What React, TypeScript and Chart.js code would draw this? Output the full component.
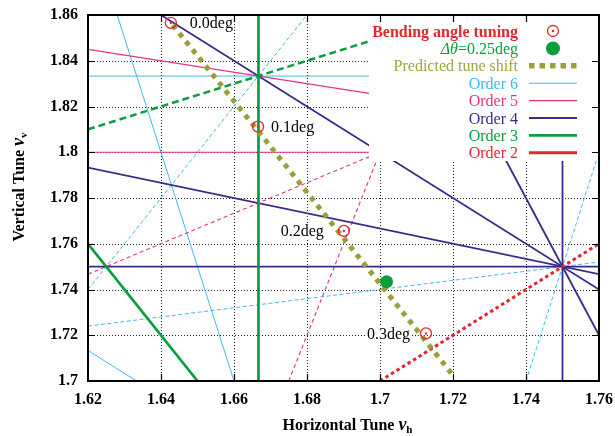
import { useEffect, useRef } from "react";
import { Chart, registerables } from "chart.js";

Chart.register(...registerables);

// ---------- data ----------
const xTickValues = [1.62, 1.64, 1.66, 1.68, 1.7, 1.72, 1.74, 1.76];
const yTickValues = [1.7, 1.72, 1.74, 1.76, 1.78, 1.8, 1.82, 1.84, 1.86];

const bendLabels = ["0.0deg", "0.1deg", "0.2deg", "0.3deg"];
const bendTuneH = [1.6427, 1.6666, 1.6901, 1.7126];
const bendTuneV = [1.8566, 1.8112, 1.7656, 1.7208];

const tunedH = [1.7018];
const tunedV = [1.7434];

const predictedH = [1.6432, 1.6665, 1.6895, 1.7125, 1.72];
const predictedV = [1.8556, 1.8095, 1.7635, 1.7175, 1.7025];

// resonance line segments: [h1, v1, h2, v2]
const order6Sum = [
  [1.62, 1.8333, 1.76, 1.8333],
  [1.628, 1.86, 1.66, 1.7],
  [1.62, 1.7133, 1.6333, 1.7],
];
const order6Diff = [
  [1.62, 1.74, 1.68, 1.86],
  [1.62, 1.724, 1.76, 1.752],
  [1.74, 1.7, 1.76, 1.8],
];
const order5Sum = [
  [1.62, 1.8, 1.76, 1.8],
  [1.62, 1.845, 1.76, 1.81],
];
const order5Diff = [
  [1.62, 1.7467, 1.76, 1.84],
  [1.675, 1.7, 1.715, 1.86],
];
const order4Sum = [
  [1.62, 1.75, 1.76, 1.75],
  [1.75, 1.7, 1.75, 1.86],
  [1.64, 1.86, 1.76, 1.74],
  [1.62, 1.7933, 1.76, 1.7467],
  [1.7133, 1.86, 1.76, 1.72],
];
const order3Sum = [
  [1.6667, 1.7, 1.6667, 1.86],
  [1.62, 1.76, 1.65, 1.7],
];
const order3Diff = [[1.62, 1.81, 1.72, 1.86]];
const order2Diff = [[1.7, 1.7, 1.76, 1.76]];

const legendLabels = [
  "Bending angle tuning",
  "Δθ=0.25deg",
  "Predicted tune shift",
  "Order 6",
  "Order 5",
  "Order 4",
  "Order 3",
  "Order 2",
];

// ---------- styles ----------
const RED = "#e3262f";
const GREEN = "#0a9e3c";
const OLIVE = "#9aa037";
const CYAN = "#3cbcee";
const PINK = "#e5338a";
const PURPLE = "#3b2a8c";

const SERIF = "'Liberation Serif', 'Times New Roman', serif";

const labelOffsets = [19, 13, -20, -16];

const orderStyles = [
  { name: "o6", color: CYAN, width: 1 },
  { name: "o5", color: PINK, width: 1.2 },
  { name: "o4", color: PURPLE, width: 1.8 },
  { name: "o3", color: GREEN, width: 2.7 },
  { name: "o2", color: RED, width: 3 },
];

function segDatasets(segs: number[][], color: string, width: number, dash: number[]) {
  return segs.map((s) => ({
    type: "scatter" as const,
    data: [
      { x: s[0], y: s[1] },
      { x: s[2], y: s[3] },
    ],
    showLine: true,
    borderColor: color,
    backgroundColor: color,
    borderWidth: width,
    borderDash: dash,
    pointRadius: 0,
    pointHoverRadius: 0,
  }));
}

const decorPlugin = {
  id: "decor",
  beforeDatasetsDraw(chart: any) {
    const { ctx, chartArea: a, scales } = chart;
    const x = scales.x;
    const y = scales.y;
    ctx.save();
    ctx.strokeStyle = "#222";
    ctx.lineWidth = 1;
    ctx.setLineDash([1, 2]);
    xTickValues.slice(1, -1).forEach((v) => {
      const px = Math.round(x.getPixelForValue(v)) + 0.5;
      ctx.beginPath();
      ctx.moveTo(px, a.top);
      ctx.lineTo(px, a.bottom);
      ctx.stroke();
    });
    yTickValues.slice(1, -1).forEach((v) => {
      const py = Math.round(y.getPixelForValue(v)) + 0.5;
      ctx.beginPath();
      ctx.moveTo(a.left, py);
      ctx.lineTo(a.right, py);
      ctx.stroke();
    });
    ctx.setLineDash([]);
    // point labels with white background
    ctx.font = `16px ${SERIF}`;
    ctx.textAlign = "left";
    ctx.textBaseline = "alphabetic";
    bendLabels.forEach((t, i) => {
      const px = x.getPixelForValue(bendTuneH[i]);
      const py = y.getPixelForValue(bendTuneV[i]);
      const off = labelOffsets[i];
      const w = ctx.measureText(t).width;
      const left = off > 0 ? px + off : px + off - w;
      ctx.fillStyle = "#fff";
      ctx.fillRect(left - 1, py - 7, w + 2, 15);
      ctx.fillStyle = "#000";
      ctx.fillText(t, left, py + 5.5);
    });
    ctx.restore();
  },
  afterDatasetsDraw(chart: any) {
    const { ctx, chartArea: a, scales } = chart;
    const x = scales.x;
    const y = scales.y;
    ctx.save();
    // legend box
    const boxW = 230;
    const boxH = 146;
    ctx.fillStyle = "#fff";
    ctx.fillRect(a.right - boxW, a.top, boxW, boxH);
    const textRight = a.right - 81;
    const sx1 = a.right - 70;
    const sx2 = a.right - 22;
    const sxc = a.right - 46;
    const rowY = (i: number) => a.top + 16 + i * 17.4;
    ctx.textAlign = "right";
    ctx.textBaseline = "alphabetic";
    const textColors = [RED, GREEN, "#a2a445", CYAN, PINK, PURPLE, GREEN, RED];
    legendLabels.forEach((t, i) => {
      const ry = rowY(i);
      ctx.fillStyle = textColors[i];
      if (i === 0) {
        ctx.font = `bold 16px ${SERIF}`;
        ctx.fillText(t, textRight, ry + 5.5);
      } else if (i === 1) {
        const head = t.slice(0, 2);
        const tail = t.slice(2);
        ctx.font = `16px ${SERIF}`;
        const wt = ctx.measureText(tail).width;
        ctx.fillText(tail, textRight, ry + 5.5);
        ctx.font = `italic 16px ${SERIF}`;
        ctx.fillText(head, textRight - wt, ry + 5.5);
      } else {
        ctx.font = `16px ${SERIF}`;
        ctx.fillText(t, textRight, ry + 5.5);
      }
    });
    // legend samples
    let ry = rowY(0);
    ctx.strokeStyle = RED;
    ctx.lineWidth = 1.3;
    ctx.beginPath();
    ctx.arc(sxc, ry, 5.5, 0, Math.PI * 2);
    ctx.stroke();
    ctx.fillStyle = RED;
    ctx.beginPath();
    ctx.arc(sxc, ry, 1.2, 0, Math.PI * 2);
    ctx.fill();
    ry = rowY(1);
    ctx.fillStyle = GREEN;
    ctx.beginPath();
    ctx.arc(sxc, ry, 7, 0, Math.PI * 2);
    ctx.fill();
    ry = rowY(2);
    ctx.strokeStyle = OLIVE;
    ctx.lineWidth = 5.5;
    ctx.setLineDash([5.5, 5]);
    ctx.beginPath();
    ctx.moveTo(sx1, ry);
    ctx.lineTo(sx2, ry);
    ctx.stroke();
    ctx.setLineDash([]);
    orderStyles.forEach((s, k) => {
      const yy = rowY(3 + k);
      ctx.strokeStyle = s.color;
      ctx.lineWidth = s.width;
      ctx.beginPath();
      ctx.moveTo(sx1, yy);
      ctx.lineTo(sx2, yy);
      ctx.stroke();
    });
    // frame
    ctx.strokeStyle = "#000";
    ctx.lineWidth = 2;
    ctx.strokeRect(a.left, a.top, a.right - a.left, a.bottom - a.top);
    // inward ticks
    ctx.lineWidth = 1.2;
    const tl = 7;
    xTickValues.slice(1, -1).forEach((v) => {
      const px = Math.round(x.getPixelForValue(v)) + 0.5;
      ctx.beginPath();
      ctx.moveTo(px, a.bottom);
      ctx.lineTo(px, a.bottom - tl);
      ctx.moveTo(px, a.top);
      ctx.lineTo(px, a.top + tl);
      ctx.stroke();
    });
    yTickValues.slice(1, -1).forEach((v) => {
      const py = Math.round(y.getPixelForValue(v)) + 0.5;
      ctx.beginPath();
      ctx.moveTo(a.left, py);
      ctx.lineTo(a.left + tl, py);
      ctx.moveTo(a.right, py);
      ctx.lineTo(a.right - tl, py);
      ctx.stroke();
    });
    ctx.restore();
  },
  afterDraw(chart: any) {
    const { ctx, chartArea: a } = chart;
    ctx.save();
    ctx.fillStyle = "#000";
    ctx.textAlign = "left";
    ctx.textBaseline = "alphabetic";
    const drawTitle = (main: string, sub: string) => {
      ctx.font = `bold 16px ${SERIF}`;
      const w1 = ctx.measureText(main).width;
      ctx.font = `bold italic 18px ${SERIF}`;
      const w2 = ctx.measureText("ν").width;
      ctx.font = `bold 11px ${SERIF}`;
      const w3 = ctx.measureText(sub).width;
      const total = w1 + w2 + w3;
      let cx = -total / 2;
      ctx.font = `bold 16px ${SERIF}`;
      ctx.fillText(main, cx, 0);
      cx += w1;
      ctx.font = `bold italic 18px ${SERIF}`;
      ctx.fillText("ν", cx, 0);
      cx += w2;
      ctx.font = `bold 11px ${SERIF}`;
      ctx.fillText(sub, cx, 3);
    };
    ctx.save();
    ctx.translate((a.left + a.right) / 2 + 4, 430);
    drawTitle("Horizontal Tune ", "h");
    ctx.restore();
    ctx.save();
    ctx.translate(24, 187);
    ctx.rotate(-Math.PI / 2);
    drawTitle("Vertical Tune ", "v");
    ctx.restore();
    ctx.restore();
  },
};

export default function App() {
  const canvasRef = useRef<HTMLCanvasElement | null>(null);

  useEffect(() => {
    const canvas = canvasRef.current;
    if (!canvas) return;

    const datasets: any[] = [
      {
        type: "scatter",
        data: bendTuneH.map((h, i) => ({ x: h, y: bendTuneV[i] })),
        pointStyle: "circle",
        pointRadius: 1.2,
        pointBackgroundColor: RED,
        pointBorderWidth: 0,
        showLine: false,
      },
      {
        type: "scatter",
        data: bendTuneH.map((h, i) => ({ x: h, y: bendTuneV[i] })),
        pointStyle: "circle",
        pointRadius: 5.5,
        pointBackgroundColor: "rgba(0,0,0,0)",
        pointBorderColor: RED,
        pointBorderWidth: 1.3,
        showLine: false,
      },
      {
        type: "scatter",
        data: tunedH.map((h, i) => ({ x: h, y: tunedV[i] })),
        pointStyle: "circle",
        pointRadius: 6.5,
        pointBackgroundColor: GREEN,
        pointBorderColor: GREEN,
        pointBorderWidth: 0,
        showLine: false,
      },
      {
        type: "scatter",
        data: predictedH.map((h, i) => ({ x: h, y: predictedV[i] })),
        showLine: true,
        borderColor: OLIVE,
        borderWidth: 5,
        borderDash: [5, 5.5],
        borderCapStyle: "butt",
        pointRadius: 0,
      },
      ...segDatasets(order2Diff, RED, 3, [3.5, 3]),
      ...segDatasets(order3Sum, GREEN, 2.7, []),
      ...segDatasets(order3Diff, GREEN, 2.5, [7, 4]),
      ...segDatasets(order4Sum, PURPLE, 1.8, []),
      ...segDatasets(order5Sum, PINK, 1.2, []),
      ...segDatasets(order5Diff, PINK, 1.1, [4, 3]),
      ...segDatasets(order6Sum, CYAN, 1, []),
      ...segDatasets(order6Diff, CYAN, 1, [4, 2.5]),
    ];

    const fmt = (v: number) => String(Number(Number(v).toFixed(2)));
    const zeroPad = (s: any) => {
      s.paddingLeft = 0;
      s.paddingRight = 0;
      s.paddingTop = 0;
      s.paddingBottom = 0;
    };

    const chart = new Chart(canvas, {
      type: "scatter",
      data: { datasets },
      options: {
        animation: false,
        responsive: false,
        devicePixelRatio: 1,
        layout: { padding: { left: 0, right: 16, top: 15, bottom: 0 } },
        plugins: {
          legend: { display: false },
          tooltip: { enabled: false },
        },
        events: [],
        scales: {
          x: {
            type: "linear",
            min: 1.62,
            max: 1.76,
            grid: { display: false, drawTicks: false },
            border: { display: false },
            afterBuildTicks: (s: any) => {
              s.ticks = xTickValues.map((v) => ({ value: v }));
            },
            afterFit: (s: any) => {
              s.height = 55;
              zeroPad(s);
            },
            ticks: {
              callback: (v: any) => fmt(v),
              color: "#000",
              padding: 9,
              maxRotation: 0,
              autoSkip: false,
              font: { family: SERIF, size: 16, weight: "bold" },
            },
          },
          y: {
            type: "linear",
            min: 1.7,
            max: 1.86,
            grid: { display: false, drawTicks: false },
            border: { display: false },
            afterBuildTicks: (s: any) => {
              s.ticks = yTickValues.map((v) => ({ value: v }));
            },
            afterFit: (s: any) => {
              s.width = 88;
              zeroPad(s);
            },
            ticks: {
              callback: (v: any) => fmt(v),
              color: "#000",
              padding: 10,
              autoSkip: false,
              font: { family: SERIF, size: 16, weight: "bold" },
            },
          },
        },
      } as any,
      plugins: [decorPlugin],
    });

    return () => {
      chart.destroy();
    };
  }, []);

  return (
    <div style={{ position: "absolute", left: 0, top: 0, width: 615, height: 436, background: "#fff" }}>
      <canvas ref={canvasRef} width={615} height={436} style={{ display: "block" }} />
    </div>
  );
}
